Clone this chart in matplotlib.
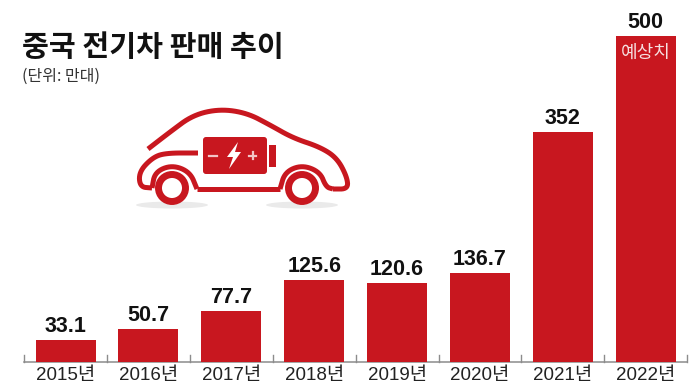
import numpy as np
import matplotlib
matplotlib.use('Agg')
import matplotlib.pyplot as plt
from matplotlib.patches import Circle, Ellipse, FancyBboxPatch, Polygon, Rectangle

plt.rcParams['font.family'] = ['Noto Sans CJK KR', 'DejaVu Sans']

years = ['2015년', '2016년', '2017년', '2018년', '2019년', '2020년', '2021년', '2022년']
values = [33.1, 50.7, 77.7, 125.6, 120.6, 136.7, 352, 500]
labels = ['33.1', '50.7', '77.7', '125.6', '120.6', '136.7', '352', '500']

RED = '#c8171f'
W, H = 696, 385


def smooth(pts, n=3):
    # chaikin corner cutting, keeps the end points
    p = np.array(pts, float)
    for _ in range(n):
        q = p[:-1] * 0.75 + p[1:] * 0.25
        r = p[:-1] * 0.25 + p[1:] * 0.75
        mid = np.empty((len(q) * 2, 2))
        mid[0::2] = q
        mid[1::2] = r
        p = np.vstack([p[0], mid, p[-1]])
    return p


fig = plt.figure(figsize=(W / 100, H / 100), dpi=100, facecolor='white')

# chart axes fill the figure, 0 of the value scale sits at y=362px
ppu = 0.652
step = 82.9
ax = fig.add_axes([0, 0, 1, 1])
ax.set_xlim(-65.5 / step, (W - 65.5) / step)
ax.set_ylim(-(H - 362) / ppu, 362 / ppu)
ax.axis('off')

x = np.arange(len(values))
ax.bar(x, values, width=60 / step, color=RED, zorder=2)

# baseline and upward ticks
ax.plot([-0.5, len(values) - 0.5], [0, 0], color='#8c8c8c', lw=1.1, zorder=1)
for t in np.arange(len(values) + 1) - 0.5:
    ax.plot([t, t], [0, 10], color='#8c8c8c', lw=1.0, zorder=1)

for i, v in enumerate(values):
    ax.text(i, v + 5, labels[i], ha='center', va='bottom', fontsize=15.5,
            fontweight='bold', family=['Liberation Sans'], color='#111111')
    # bottom of the text box sits just inside the figure edge
    ax.text(i, -34.5, years[i], ha='center', va='bottom', fontsize=13.5, color='#222222',
            family=['Liberation Sans', 'Noto Sans CJK KR'])

ax.text(7, 474, '예상치', ha='center', va='center', fontsize=13, color='#f6dfe0', fontweight='medium')

# overlay in pixel coordinates for title and car icon
ov = fig.add_axes([0, 0, 1, 1])
ov.set_xlim(0, W)
ov.set_ylim(H, 0)
ov.axis('off')
ov.patch.set_alpha(0)

ov.text(22, 47, '중국 전기차 판매 추이', fontsize=21, fontweight='bold', color='#111111',
        ha='left', va='center')
ov.text(22, 76, '(단위: 만대)', fontsize=11.5, color='#333333', ha='left', va='center')

# car icon
roof = [(148, 149), (170, 132), (193, 115), (220, 109), (247, 113), (270, 125),
        (293, 138), (320, 147), (337, 158), (347, 177), (348, 189), (333, 189)]
body = [(198, 153), (165, 153), (152, 158), (139, 172), (140, 187), (152, 188)]
rear_arch = [(152, 188), (155, 172), (172, 165), (190, 172), (197, 189)]
floor = [(197, 189), (280, 189)]
front_arch = [(280, 189), (285, 172), (302, 165), (320, 172), (326, 187), (333, 189)]

for line in (roof, body, rear_arch, floor, front_arch):
    sm = smooth(line) if len(line) > 2 else np.array(line)
    ov.plot(sm[:, 0], sm[:, 1], color=RED, lw=3.6, solid_capstyle='butt', solid_joinstyle='round')

for cx in (172, 302):
    ov.add_patch(Ellipse((cx, 205), 72, 7, color='#d9d9d9', alpha=0.55, lw=0, zorder=1))
    ov.add_patch(Circle((cx, 188), 13.5, fc='white', ec=RED, lw=5, zorder=3))

ov.add_patch(FancyBboxPatch((205, 139), 60, 33, boxstyle='round,pad=2,rounding_size=3', fc=RED, ec='none'))
ov.add_patch(Rectangle((269, 145), 6.5, 22, fc=RED, ec='none'))
ov.add_patch(Polygon([(238, 142), (227, 157), (233, 157), (229, 169), (241, 152), (235, 152)],
                     fc='white', ec='none'))
ov.plot([209, 217], [155.5, 155.5], color='#f3c4c6', lw=1.6)
ov.plot([249, 256], [155.5, 155.5], color='#f3c4c6', lw=1.6)
ov.plot([252.5, 252.5], [152, 159], color='#f3c4c6', lw=1.6)

fig.savefig('out.png', dpi=100)
